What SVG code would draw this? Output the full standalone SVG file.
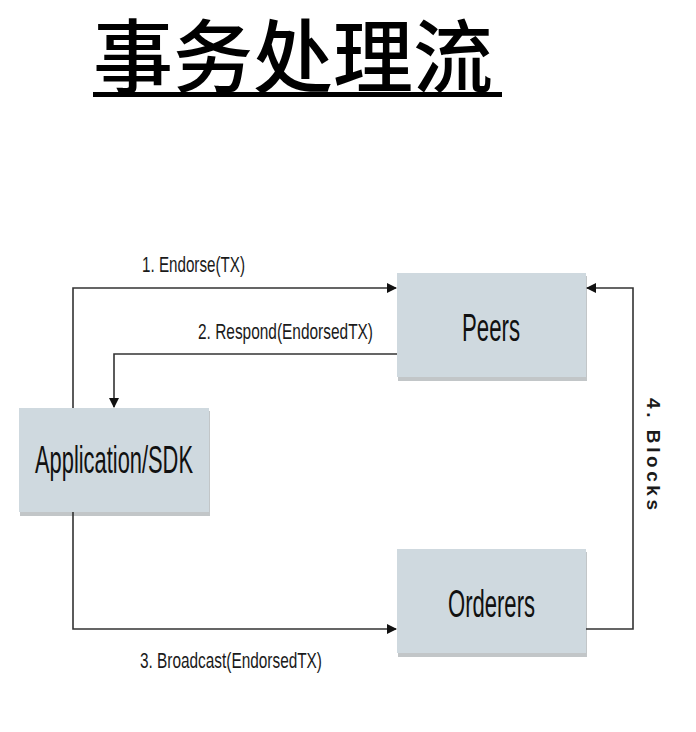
<svg xmlns="http://www.w3.org/2000/svg" width="696" height="732" viewBox="0 0 696 732">
<style>
.box{fill:#cfd9df;}
.shadow{fill:#9aa0a4;opacity:0.6;}
.lbl{font-family:"Liberation Sans",Arial,sans-serif;fill:#1a1a1a;}
.node{font-family:"Liberation Sans",Arial,sans-serif;fill:#111;font-size:38px;}
.edge{fill:none;stroke:#333;stroke-width:1.6;}
</style>
<defs>
<marker id="arr" viewBox="0 0 10 10" refX="9" refY="5" markerWidth="10" markerHeight="10" markerUnits="userSpaceOnUse" orient="auto">
<path d="M0,0 L10,5 L0,10 z" fill="#111"/>
</marker>
</defs>
<rect width="696" height="732" fill="#fff"/>
<g id="title">
<text x="93" y="86" font-family="Noto Sans CJK SC, sans-serif" font-size="80" font-weight="500" fill="#000">事务处理流</text>
<rect x="93" y="92" width="409" height="5" fill="#000"/>
</g>
<g id="peers">
<rect class="shadow" x="398" y="276" width="189" height="105"/>
<rect class="box" x="397" y="273" width="189" height="104"/>
<text class="node" x="462" y="341" textLength="58" lengthAdjust="spacingAndGlyphs">Peers</text>
</g>
<g id="app">
<rect class="shadow" x="20" y="411" width="190" height="105"/>
<rect class="box" x="19" y="408" width="190" height="104"/>
<text class="node" x="35" y="473" textLength="158" lengthAdjust="spacingAndGlyphs">Application/SDK</text>
</g>
<g id="orderers">
<rect class="shadow" x="398" y="552" width="189" height="105"/>
<rect class="box" x="397" y="549" width="189" height="104"/>
<text class="node" x="448" y="617" textLength="87" lengthAdjust="spacingAndGlyphs">Orderers</text>
</g>
<g id="connectors">
<path class="edge" d="M73,408 L73,288 L396,288" marker-end="url(#arr)"/>
<path class="edge" d="M397,354 L114,354 L114,407" marker-end="url(#arr)"/>
<path class="edge" d="M73,512 L73,629 L396,629" marker-end="url(#arr)"/>
<path class="edge" d="M586,629 L633,629 L633,288 L587,288" marker-end="url(#arr)"/>
<text class="lbl" x="142" y="272" font-size="22" textLength="103" lengthAdjust="spacingAndGlyphs">1. Endorse(TX)</text>
<text class="lbl" x="198" y="339" font-size="22" textLength="175" lengthAdjust="spacingAndGlyphs">2. Respond(EndorsedTX)</text>
<text class="lbl" x="140" y="668" font-size="22" textLength="182" lengthAdjust="spacingAndGlyphs">3. Broadcast(EndorsedTX)</text>
<text class="lbl" x="0" y="0" font-size="19" font-weight="700" transform="translate(647,398) rotate(90)" textLength="112" lengthAdjust="spacing">4. Blocks</text>
</g>
</svg>
